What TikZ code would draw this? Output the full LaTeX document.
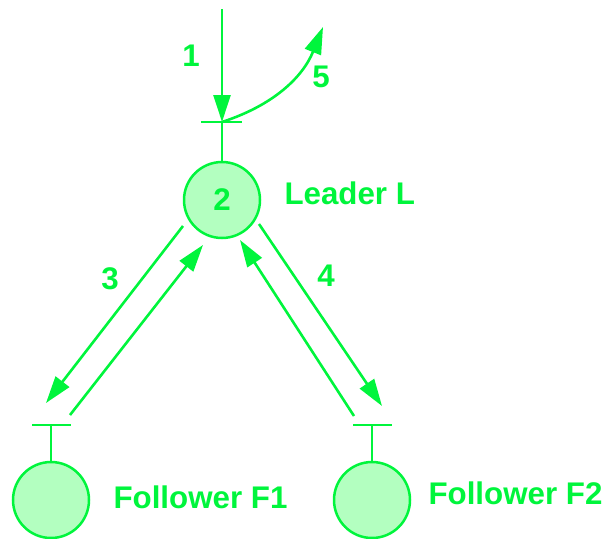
\documentclass[tikz,border=0pt]{standalone}
\usepackage{fontspec}
\setmainfont{Liberation Sans}
\usetikzlibrary{arrows.meta}
\definecolor{gline}{RGB}{0,245,60}
\definecolor{gfill}{RGB}{179,255,192}
\begin{document}
\begin{tikzpicture}[x=1pt,y=-1pt,
  every node/.style={text=gline,font=\bfseries\fontsize{31.3}{31.3}\selectfont},
  place/.style={circle,draw=gline,fill=gfill,line width=2.5pt,minimum size=76pt,inner sep=0pt},
  conn/.style={draw=gline,line width=2.6pt},
  arr/.style={conn,-{Triangle[length=27pt,width=17pt]}},
  bar/.style={conn}]
\useasboundingbox (0,0) rectangle (610,538);
\clip (0,0) rectangle (610,538);
% leader
\node[place] (L) at (222,200) {2};
\node[anchor=west] (Llab) at (281,193) {Leader L};
\coordinate (Lbar) at (222,122);
\coordinate (Lbarl) at (201,122);
\coordinate (Lbarr) at (242,122);
\draw[bar] (Lbarl) -- (Lbarr);
\draw[conn] (Lbar) -- (L.north);
\coordinate (top) at (222,9);
\draw[arr] (top) -- (Lbar);
\coordinate (out5) at (323,27);
\draw[arr] (Lbar) to[out=18,in=248] (out5);
\node (n1) at (191,56) {1};
\node (n5) at (321,77) {5};
% followers
\node[place] (F1) at (51,500) {};
\node[place] (F2) at (372,500) {};
\node[anchor=west] (F1lab) at (110,497) {Follower F1};
\node[anchor=west] (F2lab) at (425,493) {Follower F2};
\coordinate (F1bar) at (51,425);
\coordinate (F2bar) at (372,425);
\draw[bar] (32,425) -- (71,425);
\draw[bar] (353,425) -- (392,425);
\draw[conn] (F1bar) -- (F1.north);
\draw[conn] (F2bar) -- (F2.north);
% message arrows
\coordinate (a3s) at (183,226);
\coordinate (a3e) at (46,403);
\coordinate (b3s) at (70,415);
\coordinate (b3e) at (203,245);
\coordinate (a4s) at (259,224);
\coordinate (a4e) at (382,406);
\coordinate (b4s) at (354,416);
\coordinate (b4e) at (240,240);
\draw[arr] (a3s) -- (a3e);
\draw[arr] (b3s) -- (b3e);
\draw[arr] (a4s) -- (a4e);
\draw[arr] (b4s) -- (b4e);
\node (n3) at (110,279) {3};
\node (n4) at (326,276) {4};
\end{tikzpicture}
\end{document}
